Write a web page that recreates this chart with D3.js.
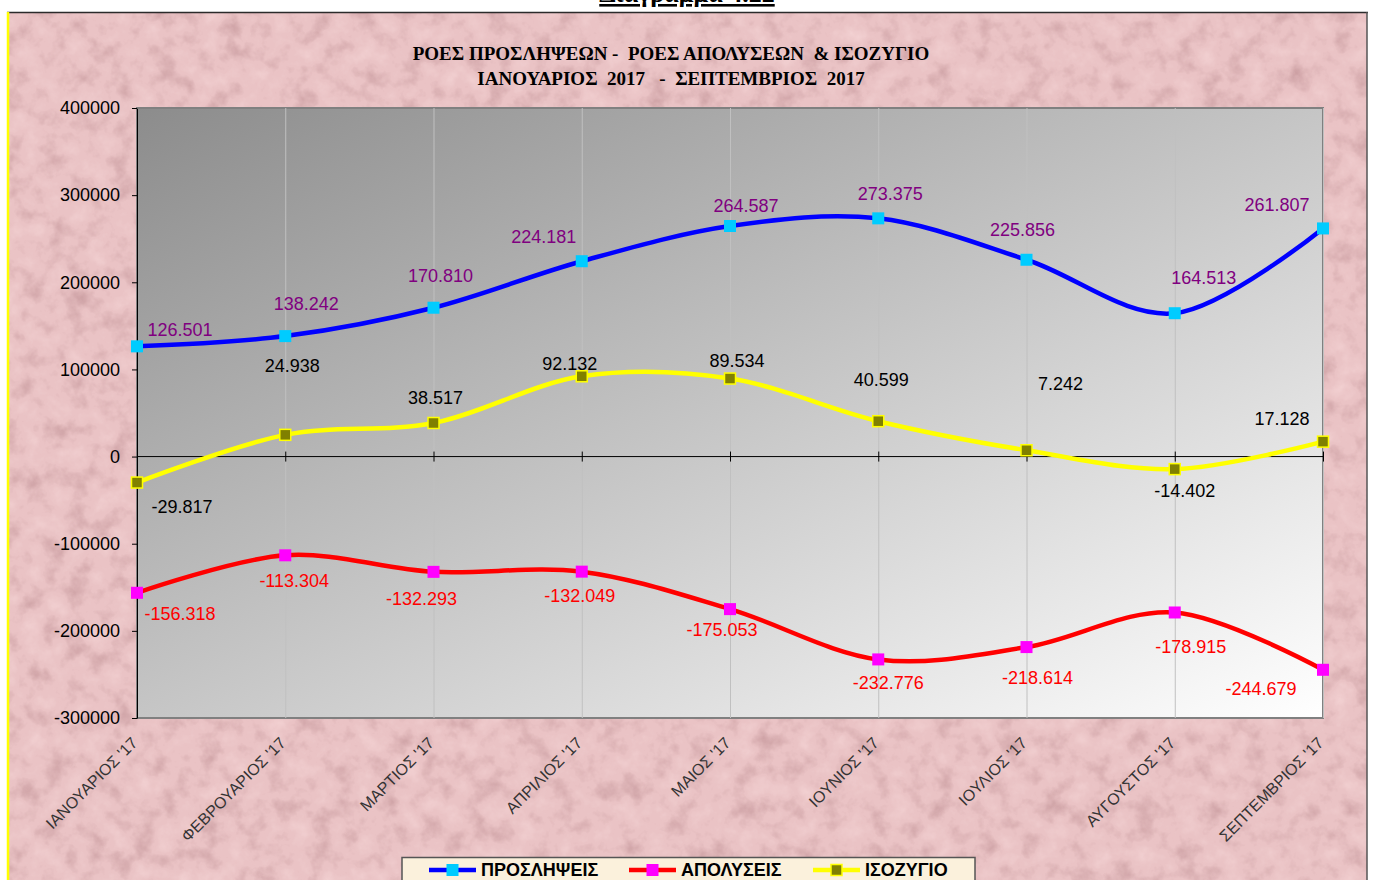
<!DOCTYPE html>
<html>
<head>
<meta charset="utf-8">
<script src="https://cdn.jsdelivr.net/npm/d3@7"></script>
<style>
  body { margin: 0; background: #fff; }
  svg { display: block; font-family: "Liberation Sans", Arial, sans-serif; }
</style>
</head>
<body>
<div id="chart"></div>
<script>
// Δεδομένα
const months = ["ΙΑΝΟΥΑΡΙΟΣ '17", "ΦΕΒΡΟΥΑΡΙΟΣ '17", "ΜΑΡΤΙΟΣ '17", "ΑΠΡΙΛΙΟΣ '17", "ΜΑΙΟΣ '17",
                "ΙΟΥΝΙΟΣ '17", "ΙΟΥΛΙΟΣ '17", "ΑΥΓΟΥΣΤΟΣ '17", "ΣΕΠΤΕΜΒΡΙΟΣ '17"];
const hires   = [126501, 138242, 170810, 224181, 264587, 273375, 225856, 164513, 261807];
const layoffs = [-156318, -113304, -132293, -132049, -175053, -232776, -218614, -178915, -244679];
const balance = [-29817, 24938, 38517, 92132, 89534, 40599, 7242, -14402, 17128];
const yTicks  = [-300000, -200000, -100000, 0, 100000, 200000, 300000, 400000];
const seriesNames = ['ΠΡΟΣΛΗΨΕΙΣ', 'ΑΠΟΛΥΣΕΙΣ', 'ΙΣΟΖΥΓΙΟ'];

// Θέσεις ετικετών (μετατόπιση από το σημείο, px)
const hiresLabelOff   = [[43,-17],[21,-32],[7,-32],[-38,-25],[16,-20],[12,-25],[-4,-30],[29,-36],[-46,-24]];
const layoffsLabelOff = [[43,21],[9,25],[-12,27],[-2,24],[-8,21],[10,23],[11,31],[16,34],[-62,19]];
const balanceLabelOff = [[45,24],[7,-69],[2,-25],[-12,-13],[7,-18],[3,-41],[34,-67],[10,22],[-41,-23]];

const W = 1373, H = 880;
const plot = {left: 137, right: 1323, top: 108, bottom: 718};

const locale = d3.formatLocale({decimal: ',', thousands: '.', grouping: [3], currency: ['', '€'], minus: '-'});
const fmtLabel = locale.format(',d');
const fmtTick = locale.format('d');

let svg = d3.select('#chart').append('svg')
    .attr('width', W)
    .attr('height', H);

let defs = svg.append('defs');

// Υφή φόντου
let filt = defs.append('filter').attr('id', 'paper')
    .attr('x', 0).attr('y', 0).attr('width', '100%').attr('height', '100%')
    .attr('color-interpolation-filters', 'sRGB');
filt.append('feTurbulence').attr('type', 'fractalNoise').attr('baseFrequency', 0.045)
    .attr('numOctaves', 4).attr('seed', 7).attr('result', 'n');
filt.append('feColorMatrix').attr('in', 'n').attr('type', 'matrix')
    .attr('values', '0 0 0 0 0.66  0 0 0 0 0.46  0 0 0 0 0.48  1.0 0 0 0 -0.5').attr('result', 'dark');
filt.append('feColorMatrix').attr('in', 'n').attr('type', 'matrix')
    .attr('values', '0 0 0 0 1  0 0 0 0 0.9  0 0 0 0 0.9  -1.0 0 0 0 0.45').attr('result', 'light');
let merge = filt.append('feMerge');
merge.append('feMergeNode').attr('in', 'dark');
merge.append('feMergeNode').attr('in', 'light');

let grad = defs.append('linearGradient').attr('id', 'plotGrad')
    .attr('x1', 0).attr('y1', 0).attr('x2', 1).attr('y2', 1);
grad.append('stop').attr('offset', '0%').attr('stop-color', '#8c8c8c');
grad.append('stop').attr('offset', '100%').attr('stop-color', '#ffffff');

// Τίτλος διαγράμματος (κομμένος στην κορυφή, όπως στο πρωτότυπο)
svg.append('text')
    .attr('x', 687).attr('y', 2)
    .attr('text-anchor', 'middle')
    .style('font-family', '"Liberation Serif", "Times New Roman", serif')
    .style('font-weight', 'bold').style('font-size', '26px')
    .style('text-decoration', 'underline')
    .text('Διάγραμμα  4.22');

// Πλαίσιο
svg.append('rect').attr('x', 8).attr('y', 12).attr('width', 1359).attr('height', 880)
    .attr('fill', '#eac3c5');
svg.append('rect').attr('x', 8).attr('y', 12).attr('width', 1359).attr('height', 880)
    .attr('fill', '#fff').attr('filter', 'url(#paper)');
svg.append('line').attr('x1', 7).attr('x2', 1368).attr('y1', 12.5).attr('y2', 12.5)
    .attr('stroke', '#2b2b2b').attr('stroke-width', 1.5);
svg.append('line').attr('x1', 8).attr('x2', 8).attr('y1', 12).attr('y2', H)
    .attr('stroke', '#ffff00').attr('stroke-width', 2.5);
svg.append('line').attr('x1', 1367).attr('x2', 1367).attr('y1', 12).attr('y2', H)
    .attr('stroke', '#555').attr('stroke-width', 1.5);

// Κλίμακες
let x = d3.scalePoint().domain(months).range([plot.left, plot.right]).padding(0);
let y = d3.scaleLinear().domain([-300000, 400000]).range([plot.bottom, plot.top]);

// Περιοχή σχεδίασης
svg.append('rect')
    .attr('x', plot.left).attr('y', plot.top)
    .attr('width', plot.right - plot.left).attr('height', plot.bottom - plot.top)
    .attr('fill', 'url(#plotGrad)')
    .attr('stroke', '#808080').attr('stroke-width', 2);

// Κάθετες γραμμές πλέγματος
svg.append('g')
    .attr('transform', 'translate(0,' + plot.bottom + ')')
    .call(d3.axisBottom(x).tickSize(-(plot.bottom - plot.top)).tickFormat(''))
    .call(g => g.select('.domain').remove())
    .call(g => g.selectAll('line').attr('stroke', '#c0c0c0').attr('stroke-width', 1));

// Άξονας Y
svg.append('g')
    .attr('transform', 'translate(' + plot.left + ',0)')
    .call(d3.axisLeft(y).tickValues(yTicks).tickSize(5).tickSizeOuter(0).tickPadding(12).tickFormat(fmtTick))
    .call(g => g.selectAll('text').style('font-size', '18px').style('font-family', '"Liberation Sans", Arial, sans-serif').attr('fill', '#000'))
    .call(g => g.selectAll('line, path').attr('stroke', '#000'));

// Γραμμή μηδέν με υποδιαιρέσεις
svg.append('g')
    .attr('transform', 'translate(0,' + (y(0) - 5) + ')')
    .call(d3.axisBottom(x).tickSize(10).tickFormat(''))
    .call(g => g.select('.domain').remove())
    .call(g => g.selectAll('line').attr('stroke', '#000'));
svg.append('line')
    .attr('x1', plot.left).attr('x2', plot.right)
    .attr('y1', y(0)).attr('y2', y(0))
    .attr('stroke', '#000').attr('stroke-width', 1);

// Ετικέτες κατηγοριών
svg.append('g')
    .attr('transform', 'translate(0,' + plot.bottom + ')')
    .call(d3.axisBottom(x).tickSize(0).tickPadding(0))
    .call(g => g.select('.domain').remove())
    .call(g => g.selectAll('text')
        .attr('y', 0).attr('dy', 0)
        .attr('text-anchor', 'end')
        .attr('transform', 'translate(1,26) rotate(-45)')
        .style('font-size', '16px')
        .style('font-family', '"Liberation Sans", Arial, sans-serif')
        .attr('fill', '#333'));

// Σειρές
let series = [
    {name: seriesNames[0], values: hires,   line: '#0000ff', fill: '#00ccff', mstroke: 'none',    size: 12, label: '#800080', off: hiresLabelOff},
    {name: seriesNames[1], values: layoffs, line: '#ff0000', fill: '#ff00ff', mstroke: 'none',    size: 12, label: '#ff0000', off: layoffsLabelOff},
    {name: seriesNames[2], values: balance, line: '#ffff00', fill: '#808000', mstroke: '#ffff00', size: 11, label: '#000000', off: balanceLabelOff}
];

let lineGen = d3.line()
    .x((d, i) => x(months[i]))
    .y(d => y(d))
    .curve(d3.curveCardinal.tension(0));

series.forEach(function(s) {
    svg.append('path')
        .datum(s.values)
        .attr('d', lineGen)
        .attr('fill', 'none')
        .attr('stroke', s.line)
        .attr('stroke-width', 4.5);

    svg.append('g').selectAll('rect')
        .data(s.values)
        .enter()
        .append('rect')
        .attr('x', (d, i) => x(months[i]) - s.size / 2)
        .attr('y', d => y(d) - s.size / 2)
        .attr('width', s.size).attr('height', s.size)
        .attr('fill', s.fill)
        .attr('stroke', s.mstroke)
        .attr('stroke-width', 1.5);
});

series.forEach(function(s) {
    svg.append('g').selectAll('text')
        .data(s.values)
        .enter()
        .append('text')
        .attr('x', (d, i) => x(months[i]) + s.off[i][0])
        .attr('y', (d, i) => y(d) + s.off[i][1])
        .attr('dy', '0.35em')
        .attr('text-anchor', 'middle')
        .style('font-size', '18px')
        .attr('fill', s.label)
        .text(d => fmtLabel(d));
});

// Τίτλος
let title = svg.append('g')
    .style('font-family', '"Liberation Serif", "Times New Roman", serif')
    .style('font-weight', 'bold')
    .style('font-size', '19px');
title.append('text').attr('x', 671).attr('y', 60).attr('text-anchor', 'middle')
    .attr('xml:space', 'preserve')
    .text('ΡΟΕΣ ΠΡΟΣΛΗΨΕΩΝ -  ΡΟΕΣ ΑΠΟΛΥΣΕΩΝ  & ΙΣΟΖΥΓΙΟ');
title.append('text').attr('x', 671).attr('y', 85).attr('text-anchor', 'middle')
    .attr('xml:space', 'preserve')
    .text('ΙΑΝΟΥΑΡΙΟΣ  2017   -  ΣΕΠΤΕΜΒΡΙΟΣ  2017');

// Υπόμνημα
let legend = svg.append('g');
legend.append('rect')
    .attr('x', 402).attr('y', 857.5).attr('width', 573).attr('height', 40)
    .attr('fill', '#fbf1dc').attr('stroke', '#555').attr('stroke-width', 1.5);
let legendX = [429, 629, 813];
series.forEach(function(s, i) {
    let g = legend.append('g').attr('transform', 'translate(' + legendX[i] + ',870)');
    g.append('line').attr('x1', 0).attr('x2', 47).attr('y1', 0).attr('y2', 0)
        .attr('stroke', s.line).attr('stroke-width', 4.5);
    g.append('rect').attr('x', 23.5 - s.size / 2).attr('y', -s.size / 2)
        .attr('width', s.size).attr('height', s.size)
        .attr('fill', s.fill).attr('stroke', s.mstroke).attr('stroke-width', 1.5);
    g.append('text').attr('x', 52).attr('y', 0).attr('dy', '0.36em')
        .style('font-size', '18px').style('font-weight', 'bold')
        .attr('fill', '#000')
        .text(s.name);
});
</script>
</body>
</html>
